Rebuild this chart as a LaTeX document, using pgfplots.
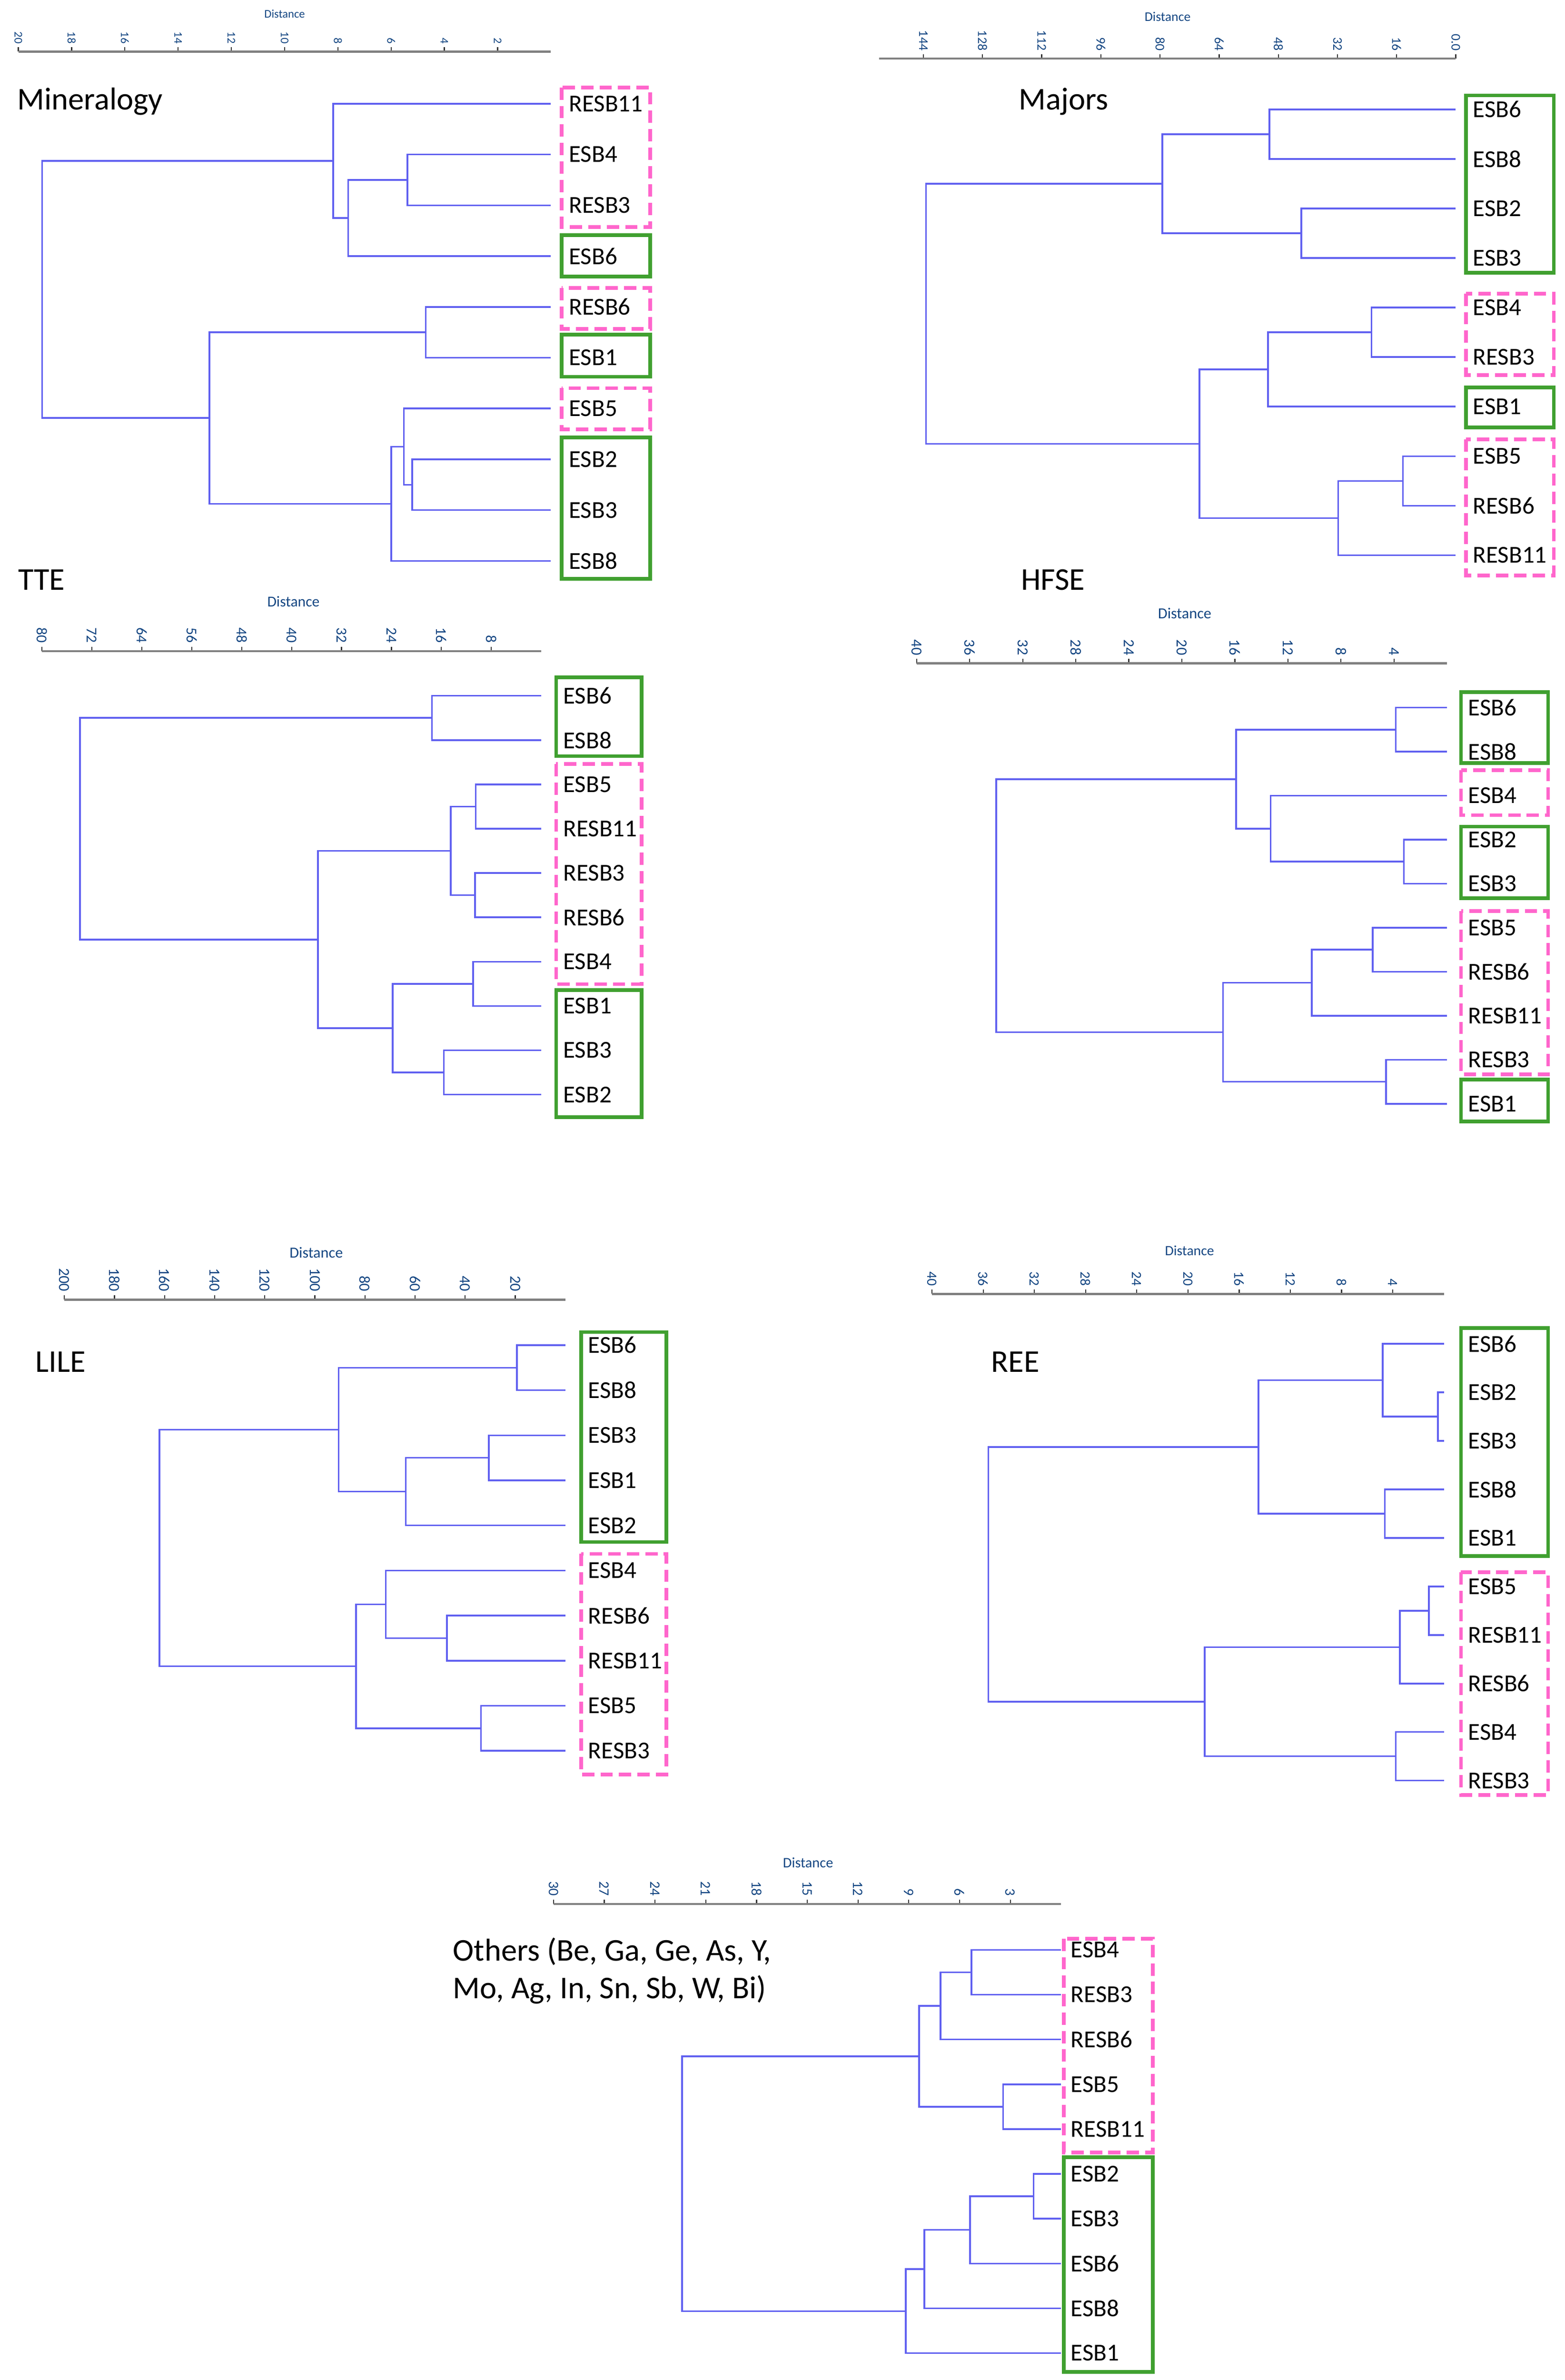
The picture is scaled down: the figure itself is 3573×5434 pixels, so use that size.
\documentclass[border=0pt]{standalone}
\usepackage{fontspec}
\setmainfont{Carlito}
\usepackage{pgfplots}
\pgfplotsset{compat=1.18}

\definecolor{dendblue}{RGB}{96,96,240}
\definecolor{boxgreen}{RGB}{64,160,48}
\definecolor{boxpink}{RGB}{255,102,204}
\definecolor{axisgray}{RGB}{128,128,128}
\definecolor{ticktext}{RGB}{20,70,130}

\newcommand\fs[1]{\fontsize{#1}{#1}\selectfont}
% leaf label and boxes; \lo, \bl, \br are set before each axis
\newcommand\leaf[2]{\node[anchor=west, inner sep=0pt, font=\fs{7.9}, xshift=\lo] at (axis cs:0,-#1) {#2};}
\newcommand\gbox[2]{\draw[boxgreen, line width=1.2pt] ([xshift=\bl]axis cs:0,#1) rectangle ([xshift=\br]axis cs:0,#2);}
\newcommand\pbox[2]{\draw[boxpink, line width=1.2pt, dash pattern=on 4pt off 2pt] ([xshift=\bl]axis cs:0,#1) rectangle ([xshift=\br]axis cs:0,#2);}

\tikzset{title node/.style={anchor=west, inner sep=0pt, font=\fs{10.3}}}

\pgfplotsset{
  dend/.style={
    scale only axis, anchor=north west, x dir=reverse,
    xmin=0, ymin=-10.6,
    axis x line*=top, axis y line=none, ytick=\empty,
    tick align=outside, major tick length=0.05cm,
    axis line style={draw=axisgray, line width=0.7pt},
    xtick style={draw=black!80, line width=0.35pt},
    x tick label style={rotate=-90, anchor=east, inner sep=1pt, text=ticktext,
      /pgf/number format/assume math mode=true},
    clip=false,
  },
  dendro/.style={draw=dendblue, line width=0.55pt, mark=none},
}

\begin{document}
\begin{tikzpicture}[x=0.005cm, y=0.005cm]
\useasboundingbox (0,0) rectangle (3573,-5434);

% ---------- Mineralogy ----------
\node[title node] at (38,-232) {Mineralogy};
\node[font=\fs{3.8}, text=ticktext] at (650,-32) {Distance};
\def\lo{0.2cm}\def\bl{0.125cm}\def\br{1.135cm}
\begin{axis}[dend, at={(0.21cm,-0.59cm)}, width=6.085cm, height=6.168cm,
  xmax=20, ymax=0.025, xtick={2,4,...,20},
  x tick label style={font=\fs{3.8}}]
\addplot[dendro] coordinates {(0,-2)(5.39,-2)(5.39,-3)(0,-3)};
\addplot[dendro] coordinates {(5.39,-2.5)(7.61,-2.5)(7.61,-4)(0,-4)};
\addplot[dendro] coordinates {(0,-1)(8.18,-1)(8.18,-3.25)(7.61,-3.25)};
\addplot[dendro] coordinates {(0,-5)(4.70,-5)(4.70,-6)(0,-6)};
\addplot[dendro] coordinates {(0,-8)(5.21,-8)(5.21,-9)(0,-9)};
\addplot[dendro] coordinates {(0,-7)(5.52,-7)(5.52,-8.5)(5.21,-8.5)};
\addplot[dendro] coordinates {(5.52,-7.75)(6.00,-7.75)(6.00,-10)(0,-10)};
\addplot[dendro] coordinates {(4.70,-5.5)(12.82,-5.5)(12.82,-8.875)(6.00,-8.875)};
\addplot[dendro] coordinates {(8.18,-2.125)(19.11,-2.125)(19.11,-7.1875)(12.82,-7.1875)};
\leaf{1}{RESB11}\leaf{2}{ESB4}\leaf{3}{RESB3}\leaf{4}{ESB6}\leaf{5}{RESB6}
\leaf{6}{ESB1}\leaf{7}{ESB5}\leaf{8}{ESB2}\leaf{9}{ESB3}\leaf{10}{ESB8}
\pbox{-0.681}{-3.429}\gbox{-3.584}{-4.402}\pbox{-4.626}{-5.436}
\gbox{-5.548}{-6.375}\pbox{-6.599}{-7.408}\gbox{-7.572}{-10.354}
\end{axis}

% ---------- Majors ----------
\node[title node] at (2325,-232) {Majors};
\node[font=\fs{4.3}, text=ticktext] at (2666,-38) {Distance};
\def\lo{0.19cm}\def\bl{0.115cm}\def\br{1.12cm}
\begin{axis}[dend, at={(10.045cm,-0.67cm)}, width=6.59cm, height=6.014cm,
  xmax=15.6, ymax=0.025, xtick={0,1.6,3.2,4.8,6.4,8,9.6,11.2,12.8,14.4},
  xticklabels={0.0,16,32,48,64,80,96,112,128,144},
  x tick label style={font=\fs{4.3}}]
\addplot[dendro] coordinates {(0,-1)(5.04,-1)(5.04,-2)(0,-2)};
\addplot[dendro] coordinates {(0,-3)(4.18,-3)(4.18,-4)(0,-4)};
\addplot[dendro] coordinates {(5.04,-1.5)(7.94,-1.5)(7.94,-3.5)(4.18,-3.5)};
\addplot[dendro] coordinates {(0,-5)(2.28,-5)(2.28,-6)(0,-6)};
\addplot[dendro] coordinates {(2.28,-5.5)(5.08,-5.5)(5.08,-7)(0,-7)};
\addplot[dendro] coordinates {(0,-8)(1.43,-8)(1.43,-9)(0,-9)};
\addplot[dendro] coordinates {(1.43,-8.5)(3.18,-8.5)(3.18,-10)(0,-10)};
\addplot[dendro] coordinates {(5.08,-6.25)(6.93,-6.25)(6.93,-9.25)(3.18,-9.25)};
\addplot[dendro] coordinates {(7.94,-2.5)(14.33,-2.5)(14.33,-7.75)(6.93,-7.75)};
\leaf{1}{ESB6}\leaf{2}{ESB8}\leaf{3}{ESB2}\leaf{4}{ESB3}\leaf{5}{ESB4}
\leaf{6}{RESB3}\leaf{7}{ESB1}\leaf{8}{ESB5}\leaf{9}{RESB6}\leaf{10}{RESB11}
\gbox{-0.717}{-4.295}\pbox{-4.719}{-6.362}\gbox{-6.610}{-7.422}\pbox{-7.661}{-10.408}
\end{axis}

% ---------- TTE ----------
\node[title node] at (40,-1324) {TTE};
\node[font=\fs{4.9}, text=ticktext] at (670,-1373) {Distance};
\def\lo{0.245cm}\def\bl{0.17cm}\def\br{1.145cm}
\begin{axis}[dend, at={(0.48cm,-7.44cm)}, width=5.705cm, height=5.372cm,
  xmax=80, ymax=0.007, xtick={8,16,...,80},
  x tick label style={font=\fs{4.9}}]
\addplot[dendro] coordinates {(0,-1)(17.5,-1)(17.5,-2)(0,-2)};
\addplot[dendro] coordinates {(0,-3)(10.5,-3)(10.5,-4)(0,-4)};
\addplot[dendro] coordinates {(0,-5)(10.6,-5)(10.6,-6)(0,-6)};
\addplot[dendro] coordinates {(10.5,-3.5)(14.5,-3.5)(14.5,-5.5)(10.6,-5.5)};
\addplot[dendro] coordinates {(0,-7)(10.9,-7)(10.9,-8)(0,-8)};
\addplot[dendro] coordinates {(0,-9)(15.6,-9)(15.6,-10)(0,-10)};
\addplot[dendro] coordinates {(10.9,-7.5)(23.8,-7.5)(23.8,-9.5)(15.6,-9.5)};
\addplot[dendro] coordinates {(14.5,-4.5)(35.8,-4.5)(35.8,-8.5)(23.8,-8.5)};
\addplot[dendro] coordinates {(17.5,-1.5)(73.9,-1.5)(73.9,-6.5)(35.8,-6.5)};
\leaf{1}{ESB6}\leaf{2}{ESB8}\leaf{3}{ESB5}\leaf{4}{RESB11}\leaf{5}{RESB3}
\leaf{6}{RESB6}\leaf{7}{ESB4}\leaf{8}{ESB1}\leaf{9}{ESB3}\leaf{10}{ESB2}
\gbox{-0.585}{-2.362}\pbox{-2.540}{-7.505}\gbox{-7.644}{-10.506}
\end{axis}

% ---------- HFSE ----------
\node[title node] at (2330,-1324) {HFSE};
\node[font=\fs{5}, text=ticktext] at (2705,-1400) {Distance};
\def\lo{0.235cm}\def\bl{0.16cm}\def\br{1.155cm}
\begin{axis}[dend, at={(10.475cm,-7.58cm)}, width=6.06cm, height=5.334cm,
  xmax=40, ymax=0.004, xtick={4,8,...,40},
  x tick label style={font=\fs{5}}]
\addplot[dendro] coordinates {(0,-1)(3.86,-1)(3.86,-2)(0,-2)};
\addplot[dendro] coordinates {(0,-4)(3.26,-4)(3.26,-5)(0,-5)};
\addplot[dendro] coordinates {(0,-3)(13.3,-3)(13.3,-4.5)(3.26,-4.5)};
\addplot[dendro] coordinates {(3.86,-1.5)(15.9,-1.5)(15.9,-3.75)(13.3,-3.75)};
\addplot[dendro] coordinates {(0,-6)(5.6,-6)(5.6,-7)(0,-7)};
\addplot[dendro] coordinates {(5.6,-6.5)(10.2,-6.5)(10.2,-8)(0,-8)};
\addplot[dendro] coordinates {(0,-9)(4.6,-9)(4.6,-10)(0,-10)};
\addplot[dendro] coordinates {(10.2,-7.25)(16.9,-7.25)(16.9,-9.5)(4.6,-9.5)};
\addplot[dendro] coordinates {(15.9,-2.625)(34.0,-2.625)(34.0,-8.375)(16.9,-8.375)};
\leaf{1}{ESB6}\leaf{2}{ESB8}\leaf{3}{ESB4}\leaf{4}{ESB2}\leaf{5}{ESB3}
\leaf{6}{ESB5}\leaf{7}{RESB6}\leaf{8}{RESB11}\leaf{9}{RESB3}\leaf{10}{ESB1}
\gbox{-0.652}{-2.262}\pbox{-2.421}{-3.445}\gbox{-3.704}{-5.334}
\pbox{-5.622}{-9.330}\gbox{-9.449}{-10.404}
\end{axis}

% ---------- LILE ----------
\node[title node] at (80,-3110) {LILE};
\node[font=\fs{5}, text=ticktext] at (722,-2860) {Distance};
\def\lo{0.255cm}\def\bl{0.18cm}\def\br{1.155cm}
\begin{axis}[dend, at={(0.735cm,-14.85cm)}, width=5.725cm, height=5.464cm,
  xmax=200, ymax=0.01, xtick={20,40,...,200},
  x tick label style={font=\fs{5}}]
\addplot[dendro] coordinates {(0,-1)(19.3,-1)(19.3,-2)(0,-2)};
\addplot[dendro] coordinates {(0,-3)(30.5,-3)(30.5,-4)(0,-4)};
\addplot[dendro] coordinates {(30.5,-3.5)(63.7,-3.5)(63.7,-5)(0,-5)};
\addplot[dendro] coordinates {(19.3,-1.5)(90.5,-1.5)(90.5,-4.25)(63.7,-4.25)};
\addplot[dendro] coordinates {(0,-7)(47.3,-7)(47.3,-8)(0,-8)};
\addplot[dendro] coordinates {(0,-6)(71.7,-6)(71.7,-7.5)(47.3,-7.5)};
\addplot[dendro] coordinates {(0,-9)(33.7,-9)(33.7,-10)(0,-10)};
\addplot[dendro] coordinates {(71.7,-6.75)(83.6,-6.75)(83.6,-9.5)(33.7,-9.5)};
\addplot[dendro] coordinates {(90.5,-2.875)(162,-2.875)(162,-8.125)(83.6,-8.125)};
\leaf{1}{ESB6}\leaf{2}{ESB8}\leaf{3}{ESB3}\leaf{4}{ESB1}\leaf{5}{ESB2}
\leaf{6}{ESB4}\leaf{7}{RESB6}\leaf{8}{RESB11}\leaf{9}{ESB5}\leaf{10}{RESB3}
\gbox{-0.709}{-5.369}\pbox{-5.631}{-10.524}
\end{axis}

% ---------- REE ----------
\node[title node] at (2262,-3110) {REE};
\node[font=\fs{4.6}, text=ticktext] at (2716,-2855) {Distance};
\def\lo{0.27cm}\def\bl{0.195cm}\def\br{1.19cm}
\begin{axis}[dend, at={(10.65cm,-14.785cm)}, width=5.85cm, height=5.893cm,
  xmax=40, ymax=0.028, xtick={4,8,...,40},
  x tick label style={font=\fs{4.6}}]
\addplot[dendro] coordinates {(0,-2)(0.48,-2)(0.48,-3)(0,-3)};
\addplot[dendro] coordinates {(0,-1)(4.79,-1)(4.79,-2.5)(0.48,-2.5)};
\addplot[dendro] coordinates {(0,-4)(4.62,-4)(4.62,-5)(0,-5)};
\addplot[dendro] coordinates {(4.79,-1.75)(14.5,-1.75)(14.5,-4.5)(4.62,-4.5)};
\addplot[dendro] coordinates {(0,-6)(1.18,-6)(1.18,-7)(0,-7)};
\addplot[dendro] coordinates {(1.18,-6.5)(3.45,-6.5)(3.45,-8)(0,-8)};
\addplot[dendro] coordinates {(0,-9)(3.76,-9)(3.76,-10)(0,-10)};
\addplot[dendro] coordinates {(3.45,-7.25)(18.7,-7.25)(18.7,-9.5)(3.76,-9.5)};
\addplot[dendro] coordinates {(14.5,-3.125)(35.6,-3.125)(35.6,-8.375)(18.7,-8.375)};
\leaf{1}{ESB6}\leaf{2}{ESB2}\leaf{3}{ESB3}\leaf{4}{ESB8}\leaf{5}{ESB1}
\leaf{6}{ESB5}\leaf{7}{RESB11}\leaf{8}{RESB6}\leaf{9}{ESB4}\leaf{10}{RESB3}
\gbox{-0.675}{-5.373}\pbox{-5.707}{-10.297}
\end{axis}

% ---------- Others ----------
\node[title node] at (1033,-4456) {Others (Be, Ga, Ge, As, Y,};
\node[title node] at (1033,-4543) {Mo, Ag, In, Sn, Sb, W, Bi)};
\node[font=\fs{4.7}, text=ticktext] at (1845,-4253) {Distance};
\def\lo{0.105cm}\def\bl{0.03cm}\def\br{1.05cm}
\begin{axis}[dend, at={(6.325cm,-21.755cm)}, width=5.8cm, height=5.44cm,
  xmax=30, ymax=0.025, xtick={3,6,...,30},
  x tick label style={font=\fs{4.7}}]
\addplot[dendro] coordinates {(0,-1)(5.29,-1)(5.29,-2)(0,-2)};
\addplot[dendro] coordinates {(5.29,-1.5)(7.12,-1.5)(7.12,-3)(0,-3)};
\addplot[dendro] coordinates {(0,-4)(3.43,-4)(3.43,-5)(0,-5)};
\addplot[dendro] coordinates {(7.12,-2.25)(8.39,-2.25)(8.39,-4.5)(3.43,-4.5)};
\addplot[dendro] coordinates {(0,-6)(1.63,-6)(1.63,-7)(0,-7)};
\addplot[dendro] coordinates {(1.63,-6.5)(5.38,-6.5)(5.38,-8)(0,-8)};
\addplot[dendro] coordinates {(5.38,-7.25)(8.08,-7.25)(8.08,-9)(0,-9)};
\addplot[dendro] coordinates {(8.08,-8.125)(9.18,-8.125)(9.18,-10)(0,-10)};
\addplot[dendro] coordinates {(8.39,-3.375)(22.4,-3.375)(22.4,-9.0625)(9.18,-9.0625)};
\leaf{1}{ESB4}\leaf{2}{RESB3}\leaf{3}{RESB6}\leaf{4}{ESB5}\leaf{5}{RESB11}
\leaf{6}{ESB2}\leaf{7}{ESB3}\leaf{8}{ESB6}\leaf{9}{ESB8}\leaf{10}{ESB1}
\pbox{-0.75}{-5.521}\gbox{-5.629}{-10.42}
\end{axis}
\end{tikzpicture}
\end{document}
